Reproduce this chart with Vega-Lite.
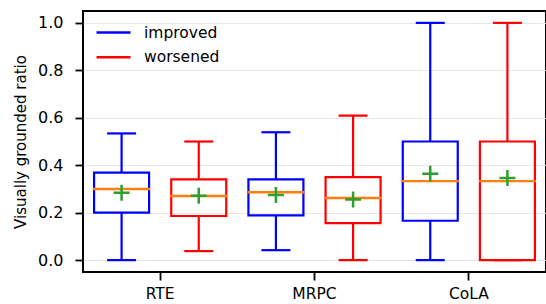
{
  "$schema": "https://vega.github.io/schema/vega-lite/v6.json",
  "autosize": {"type": "none"},
  "padding": {"left": 83, "top": 11, "right": 0, "bottom": 32},
  "width": 463,
  "height": 261,
  "background": "white",
  "config": {
    "font": "DejaVu Sans",
    "view": {"stroke": "black", "strokeWidth": 2},
    "axis": {"labelFont": "DejaVu Sans", "titleFont": "DejaVu Sans", "labelColor": "black", "titleColor": "black", "tickColor": "black", "domain": false}
  },
  "data": {
    "values": [
      {"dataset": "RTE", "group": "improved", "min": 0.0, "q1": 0.2, "median": 0.3, "q3": 0.369, "max": 0.534, "mean": 0.284},
      {"dataset": "RTE", "group": "worsened", "min": 0.038, "q1": 0.186, "median": 0.27, "q3": 0.34, "max": 0.5, "mean": 0.271},
      {"dataset": "MRPC", "group": "improved", "min": 0.042, "q1": 0.189, "median": 0.286, "q3": 0.34, "max": 0.539, "mean": 0.274},
      {"dataset": "MRPC", "group": "worsened", "min": 0.0, "q1": 0.156, "median": 0.262, "q3": 0.35, "max": 0.609, "mean": 0.256},
      {"dataset": "CoLA", "group": "improved", "min": 0.0, "q1": 0.166, "median": 0.333, "q3": 0.5, "max": 1.0, "mean": 0.364},
      {"dataset": "CoLA", "group": "worsened", "min": 0.0, "q1": 0.0, "median": 0.333, "q3": 0.5, "max": 1.0, "mean": 0.346}
    ]
  },
  "encoding": {
    "x": {
      "field": "dataset", "type": "nominal", "sort": ["RTE", "MRPC", "CoLA"],
      "scale": {"paddingInner": 0, "paddingOuter": 0},
      "axis": {"title": null, "labelAngle": 0, "labelFontSize": 15.5, "tickSize": 8, "tickWidth": 1.8, "labelPadding": 6, "grid": false}
    },
    "xOffset": {"field": "group", "type": "nominal", "scale": {"paddingInner": 0, "paddingOuter": 0}}
  },
  "layer": [
    {
      "mark": {"type": "rule", "strokeWidth": 2.2},
      "encoding": {
        "y": {
          "field": "min", "type": "quantitative",
          "scale": {"domain": [-0.05, 1.05], "nice": false, "zero": false},
          "axis": {"title": "Visually grounded ratio", "titleFontSize": 15, "titleFontWeight": "normal", "titlePadding": 9, "labelFontSize": 16, "format": ".1f", "values": [0, 0.2, 0.4, 0.6, 0.8, 1.0], "tickSize": 8, "tickWidth": 1.8, "labelPadding": 12, "grid": true, "gridColor": "#e6e6e6", "gridWidth": 1}
        },
        "y2": {"field": "q1"},
        "color": {
          "field": "group", "type": "nominal",
          "scale": {"domain": ["improved", "worsened"], "range": ["#0000ff", "#ff0000"]},
          "legend": {"title": null, "orient": "none", "legendX": 20.5, "legendY": 11.5, "symbolType": "M-2,0H2", "symbolSize": 289, "symbolFillColor": "transparent", "symbolStrokeWidth": 2.4, "symbolOpacity": 1, "labelFontSize": 15.5, "labelFont": "DejaVu Sans", "labelColor": "black", "labelOffset": 20.5, "rowPadding": 5.7}
        }
      }
    },
    {
      "mark": {"type": "rule", "strokeWidth": 2.2},
      "encoding": {
        "y": {"field": "q3", "type": "quantitative"},
        "y2": {"field": "max"},
        "color": {"field": "group", "type": "nominal"}
      }
    },
    {
      "mark": {"type": "tick", "size": 29, "thickness": 2.2, "orient": "horizontal", "opacity": 1},
      "encoding": {
        "y": {"field": "min", "type": "quantitative"},
        "color": {"field": "group", "type": "nominal"}
      }
    },
    {
      "mark": {"type": "tick", "size": 29, "thickness": 2.2, "orient": "horizontal", "opacity": 1},
      "encoding": {
        "y": {"field": "max", "type": "quantitative"},
        "color": {"field": "group", "type": "nominal"}
      }
    },
    {
      "mark": {"type": "bar", "filled": false, "width": 55, "strokeWidth": 2.2, "opacity": 1},
      "encoding": {
        "y": {"field": "q1", "type": "quantitative"},
        "y2": {"field": "q3"},
        "color": {"field": "group", "type": "nominal"}
      }
    },
    {
      "mark": {"type": "tick", "size": 57, "thickness": 2.4, "orient": "horizontal", "color": "#ff7f0e", "opacity": 1},
      "encoding": {
        "y": {"field": "median", "type": "quantitative"}
      }
    },
    {
      "mark": {"type": "point", "shape": "M-1,0H1M0,-1V1", "size": 256, "filled": false, "stroke": "#2ca02c", "strokeWidth": 2.5, "opacity": 1},
      "encoding": {
        "y": {"field": "mean", "type": "quantitative"}
      }
    }
  ]
}
